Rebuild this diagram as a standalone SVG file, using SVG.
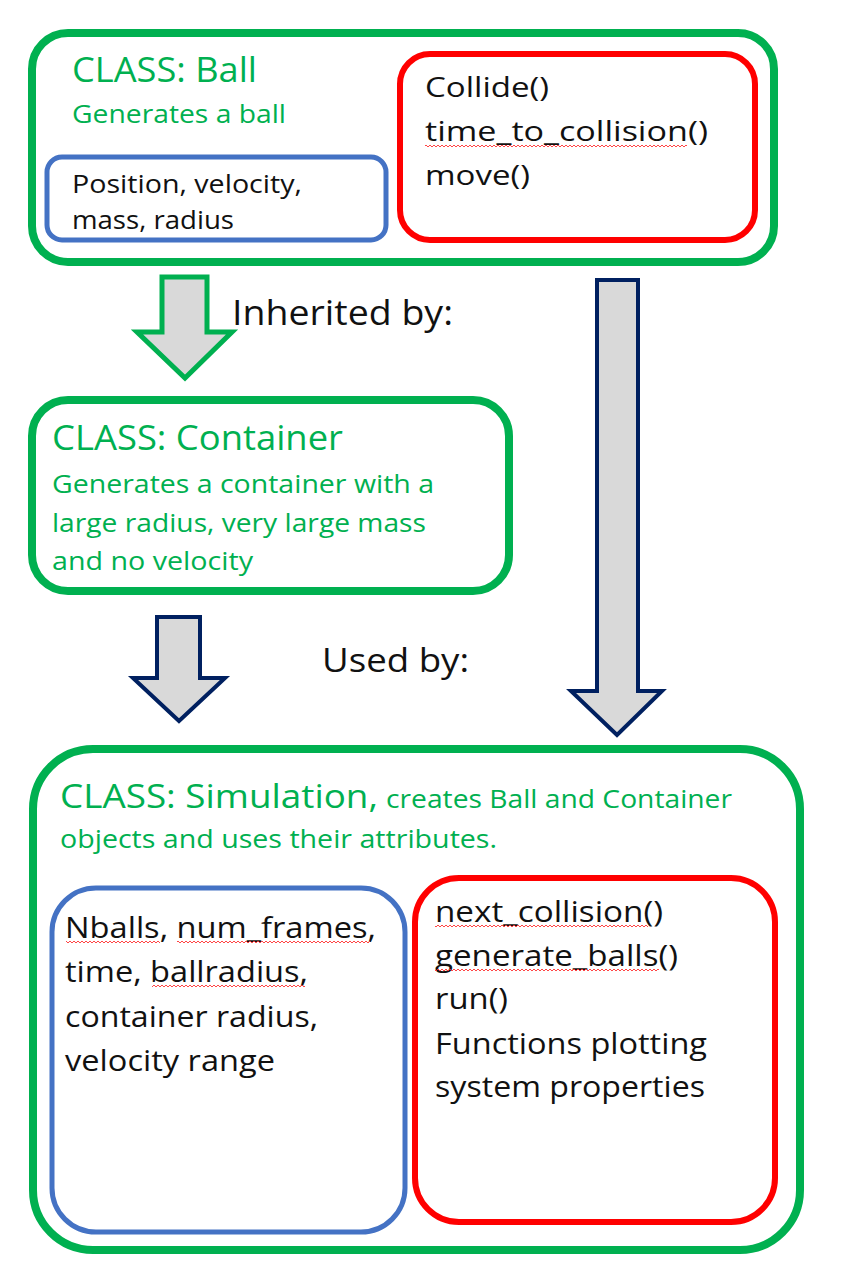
<svg xmlns="http://www.w3.org/2000/svg" width="854" height="1282" viewBox="0 0 854 1282">
<style>
.cls{fill:none;stroke:#00B050;stroke-width:8}
.attr{fill:#fff;stroke:#4472C4;stroke-width:5}
.meth{fill:#fff;stroke:#FF0000;stroke-width:6}
.t{font-family:"Open Sans",Lato,"Liberation Sans",sans-serif}
.g{fill:#00B050}
.k{fill:#111}
.arrG{fill:#D9D9D9;stroke:#00B050;stroke-width:5;stroke-linejoin:miter}
.arrN{fill:#D9D9D9;stroke:#002060;stroke-width:4;stroke-linejoin:miter}
.sq{fill:url(#squig)}
</style>
<defs>
<pattern id="squig" width="4" height="4" patternUnits="userSpaceOnUse">
<path d="M0,3 L2,1 L4,3" fill="none" stroke="#FF3030" stroke-width="0.9"/>
</pattern>
</defs>
<rect width="854" height="1282" fill="#fff"/>

<g id="connectors">
<path class="arrG" d="M162,277 H207 V332 H232 L185,378 L137,332 H162 Z"/>
<path class="arrN" d="M157,617 H200 V678 H225 L179,721 L133,678 H157 Z"/>
<path class="arrN" d="M597,280 H638 V691 H662 L617,735 L571,691 H597 Z"/>
<text class="t k" x="232" y="325" font-size="34" textLength="221" lengthAdjust="spacingAndGlyphs">Inherited by:</text>
<text class="t k" x="322" y="672" font-size="32" textLength="147" lengthAdjust="spacingAndGlyphs">Used by:</text>
</g>

<g id="ball">
<rect class="cls" x="32" y="33" width="742" height="229" rx="36"/>
<text class="t g" x="72" y="82" font-size="34" textLength="185" lengthAdjust="spacingAndGlyphs">CLASS: Ball</text>
<text class="t g" x="72" y="123" font-size="26" textLength="214" lengthAdjust="spacingAndGlyphs">Generates a ball</text>
<g id="ball-attrs">
<rect class="attr" x="47" y="157" width="339" height="83" rx="15"/>
<text class="t k" x="72" y="193" font-size="26" textLength="230" lengthAdjust="spacingAndGlyphs">Position, velocity,</text>
<text class="t k" x="72" y="229" font-size="26" textLength="162" lengthAdjust="spacingAndGlyphs">mass, radius</text>
</g>
<g id="ball-methods">
<rect class="meth" x="400" y="54" width="355" height="186" rx="30"/>
<text class="t k" x="425" y="97" font-size="28" textLength="124" lengthAdjust="spacingAndGlyphs">Collide()</text>
<text class="t k" x="425" y="141" font-size="28" textLength="283" lengthAdjust="spacingAndGlyphs">time_to_collision()</text>
<text class="t k" x="425" y="185" font-size="28" textLength="105" lengthAdjust="spacingAndGlyphs">move()</text>
<rect class="sq" x="425" y="145" width="262" height="4"/>
</g>
</g>

<g id="container">
<rect class="cls" x="32" y="400" width="477" height="191" rx="36"/>
<text class="t g" x="52" y="450" font-size="34" textLength="291" lengthAdjust="spacingAndGlyphs">CLASS: Container</text>
<text class="t g" x="52" y="493" font-size="26" textLength="382" lengthAdjust="spacingAndGlyphs">Generates a container with a</text>
<text class="t g" x="52" y="532" font-size="26" textLength="374" lengthAdjust="spacingAndGlyphs">large radius, very large mass</text>
<text class="t g" x="52" y="570" font-size="26" textLength="201" lengthAdjust="spacingAndGlyphs">and no velocity</text>
</g>

<g id="simulation">
<rect class="cls" x="33" y="749" width="767" height="501" rx="60"/>
<text class="t g" x="60" y="808" font-size="33" textLength="318" lengthAdjust="spacingAndGlyphs">CLASS: Simulation,</text>
<text class="t g" x="386" y="808" font-size="25" textLength="346" lengthAdjust="spacingAndGlyphs">creates Ball and Container</text>
<text class="t g" x="60" y="848" font-size="25" textLength="437" lengthAdjust="spacingAndGlyphs">objects and uses their attributes.</text>
<g id="sim-attrs">
<rect class="attr" x="52" y="888" width="353" height="344" rx="44"/>
<text class="t k" x="65" y="938" font-size="29" textLength="311" lengthAdjust="spacingAndGlyphs">Nballs, num_frames,</text>
<text class="t k" x="65" y="982" font-size="29" textLength="243" lengthAdjust="spacingAndGlyphs">time, ballradius,</text>
<text class="t k" x="65" y="1027" font-size="29" textLength="253" lengthAdjust="spacingAndGlyphs">container radius,</text>
<text class="t k" x="65" y="1071" font-size="29" textLength="210" lengthAdjust="spacingAndGlyphs">velocity range</text>
<rect class="sq" x="66" y="941" width="94" height="4"/>
<rect class="sq" x="177" y="941" width="193" height="4"/>
<rect class="sq" x="152" y="985" width="153" height="4"/>
</g>
<g id="sim-methods">
<rect class="meth" x="415" y="878" width="360" height="344" rx="44"/>
<text class="t k" x="435" y="922" font-size="29" textLength="228" lengthAdjust="spacingAndGlyphs">next_collision()</text>
<text class="t k" x="435" y="966" font-size="29" textLength="243" lengthAdjust="spacingAndGlyphs">generate_balls()</text>
<text class="t k" x="435" y="1009" font-size="29" textLength="73" lengthAdjust="spacingAndGlyphs">run()</text>
<text class="t k" x="435" y="1054" font-size="29" textLength="272" lengthAdjust="spacingAndGlyphs">Functions plotting</text>
<text class="t k" x="435" y="1097" font-size="29" textLength="270" lengthAdjust="spacingAndGlyphs">system properties</text>
<rect class="sq" x="435" y="925" width="213" height="4"/>
<rect class="sq" x="435" y="969" width="224" height="4"/>
</g>
</g>
</svg>
